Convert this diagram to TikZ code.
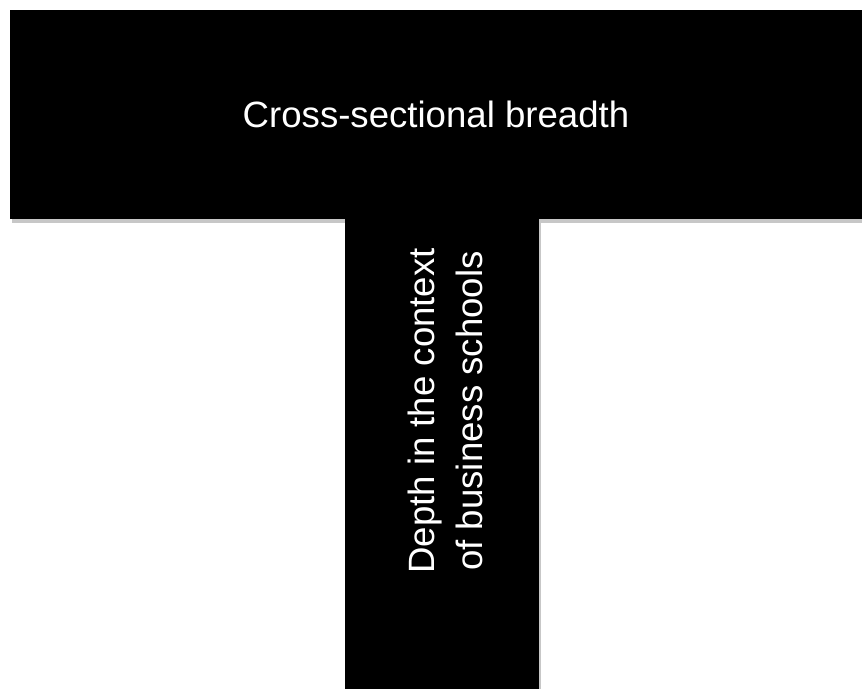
\documentclass[tikz,border=0pt]{standalone}
\usepackage{fontspec}
\setmainfont{Liberation Sans}
\usetikzlibrary{positioning}
\tikzset{
  bar/.style={fill=black,inner sep=0pt,text=white,font=\fontsize{18.3}{24}\selectfont,align=center},
  barshadow/.style={fill=black!22},
  label/.style={text=white,font=\fontsize{18.3}{24}\selectfont,align=center}
}

\begin{document}
\begin{tikzpicture}[x=0.5pt,y=0.5pt]
  \useasboundingbox (0,0) rectangle (862,689);
  % soft shadows
  \fill[barshadow] (12,466) rectangle (862,677);
  \fill[barshadow] (347,0) rectangle (541,470);
  % the T
  \node[bar,minimum width=426pt,minimum height=104.5pt] (breadth) at (436,574.5) {Cross-sectional breadth};
  \node[bar,minimum width=97pt,minimum height=236pt] (stem) at (442,235) {};
  \node[label,rotate=90] (depth) at (445,278) {Depth in the context\\of business schools};
\end{tikzpicture}
\end{document}
